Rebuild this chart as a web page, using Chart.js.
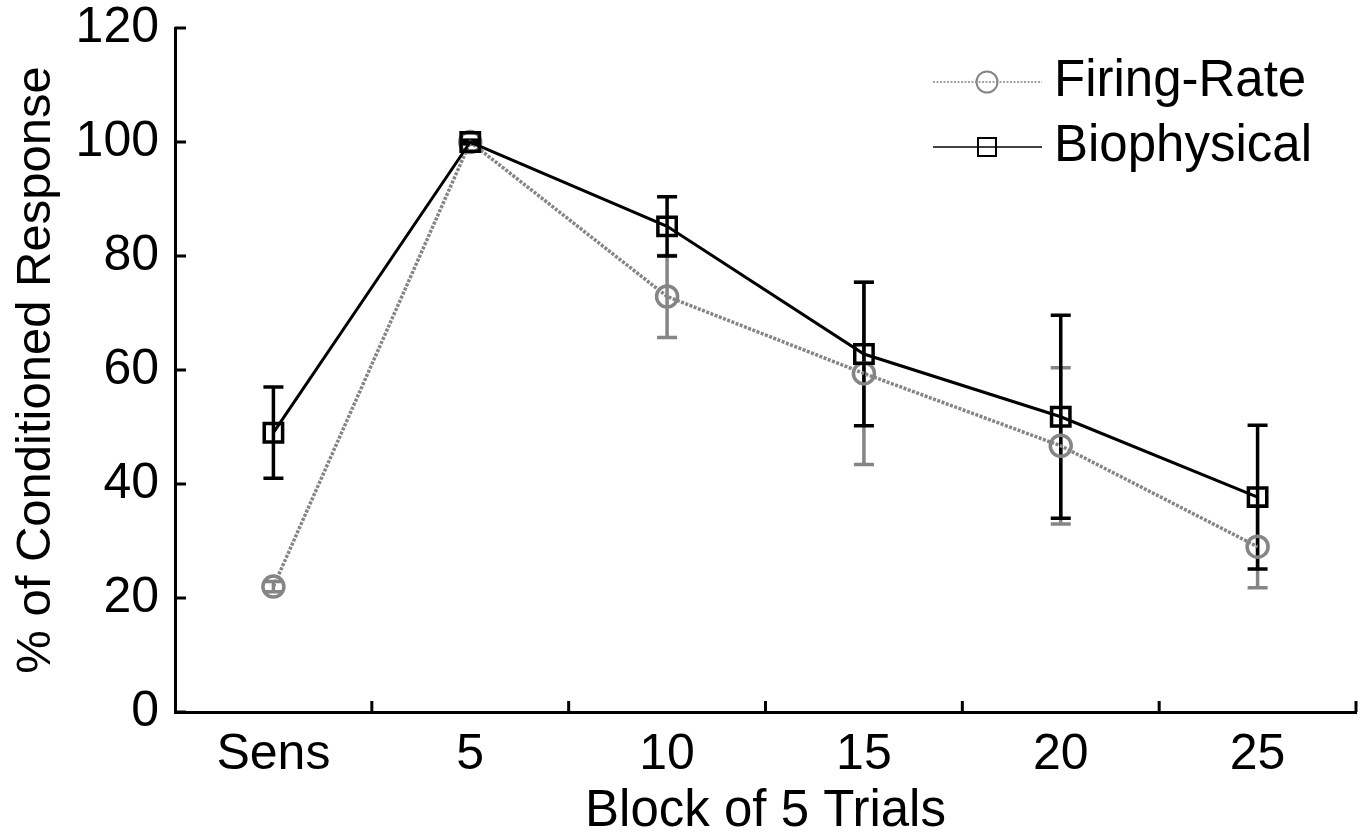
<!DOCTYPE html>
<html>
<head>
<meta charset="utf-8">
<script src="https://cdn.jsdelivr.net/npm/chart.js@4/dist/chart.umd.min.js"></script>
<style>
html, body { margin: 0; padding: 0; background: #fff; overflow: hidden; }
canvas { display: block; }
</style>
</head>
<body>
<canvas id="reponse" width="1363" height="837"></canvas>
<script>
const blocs = ['Sens', '5', '10', '15', '20', '25'];
const firingRate = [22, 100, 72.9, 59.4, 46.7, 29];
const firingErr = [0.9, 0.3, 7.2, 16, 13.7, 7.2];
const biophys = [49, 100, 85.2, 62.8, 51.8, 37.7];
const biophysErr = [8, 0.3, 5.2, 12.6, 17.8, 12.6];
const yTicks = [0, 20, 40, 60, 80, 100, 120];

const police = "'Liberation Sans', Arial, sans-serif";
const gris = '#858585';

// barres d'erreur, gris d'abord puis noir
const barresErreur = {
    id: 'barresErreur',
    beforeDatasetsDraw(chart) {
        const ctx = chart.ctx;
        const x = chart.scales.x, y = chart.scales.y;
        const ordre = chart.data.datasets.slice().sort((a, b) => b.order - a.order);
        ordre.forEach(ds => {
            ctx.save();
            ctx.strokeStyle = ds.borderColor;
            ctx.lineWidth = 3.5;
            ctx.beginPath();
            ds.erreurs.forEach((e, i) => {
                const px = x.getPixelForValue(i);
                const haut = y.getPixelForValue(ds.data[i] + e);
                const bas = y.getPixelForValue(ds.data[i] - e);
                ctx.moveTo(px, haut); ctx.lineTo(px, bas);
                ctx.moveTo(px - 10, haut); ctx.lineTo(px + 10, haut);
                ctx.moveTo(px - 10, bas); ctx.lineTo(px + 10, bas);
            });
            ctx.stroke();
            ctx.restore();
        });
    }
};

// petites graduations vers l'intérieur
const graduations = {
    id: 'graduations',
    beforeDatasetsDraw(chart) {
        const {ctx, chartArea: a, scales: {x, y}} = chart;
        ctx.save();
        ctx.strokeStyle = '#000';
        ctx.lineWidth = 3;
        ctx.beginPath();
        y.ticks.forEach(t => {
            const py = y.getPixelForValue(t.value);
            ctx.moveTo(a.left, py); ctx.lineTo(a.left + 11, py);
        });
        const pas = x.getPixelForValue(1) - x.getPixelForValue(0);
        blocs.forEach((b, i) => {
            const px = x.getPixelForValue(i) + pas / 2;
            ctx.moveTo(px, a.bottom); ctx.lineTo(px, a.bottom - 11);
        });
        ctx.stroke();
        ctx.restore();
    }
};

const legende = {
    id: 'legende',
    afterDraw(chart) {
        const {ctx, chartArea: a} = chart;
        const x0 = a.right - 423;
        chart.data.datasets.forEach((ds, i) => {
            const py = a.top + 54 + i * 65;
            ctx.save();
            ctx.strokeStyle = ds.borderColor;
            ctx.lineWidth = 1.5;
            ctx.setLineDash(ds.borderDash ? [2, 1.5] : []);
            ctx.beginPath();
            ctx.moveTo(x0, py); ctx.lineTo(x0 + 109, py);
            ctx.stroke();
            ctx.setLineDash([]);
            ctx.lineWidth = 2;
            ctx.beginPath();
            if (ds.pointStyle === 'circle') {
                ctx.arc(x0 + 54, py, 10.5, 0, Math.PI * 2);
            } else {
                ctx.rect(x0 + 54 - 9, py - 9, 18, 18);
            }
            ctx.stroke();
            ctx.fillStyle = '#000';
            ctx.font = '51px ' + police;
            ctx.textBaseline = 'middle';
            ctx.fillText(ds.label, x0 + 121, py);
            ctx.restore();
        });
    }
};

const ctx = document.getElementById('reponse').getContext('2d');

new Chart(ctx, {
    type: 'line',
    data: {
        labels: blocs,
        datasets: [{
            label: 'Firing-Rate',
            data: firingRate,
            erreurs: firingErr,
            order: 1,
            borderColor: gris,
            borderWidth: 3.5,
            borderDash: [3, 1.5],
            pointStyle: 'circle',
            pointRadius: 10.5,
            pointBorderWidth: 3.5,
            pointBorderColor: gris,
            pointBackgroundColor: 'rgba(0,0,0,0)',
            tension: 0
        }, {
            label: 'Biophysical',
            data: biophys,
            erreurs: biophysErr,
            order: 0,
            borderColor: '#000',
            borderWidth: 3,
            pointStyle: 'rect',
            pointRadius: 13,
            pointBorderWidth: 3.5,
            pointBorderColor: '#000',
            pointBackgroundColor: 'rgba(0,0,0,0)',
            tension: 0
        }]
    },
    options: {
        responsive: false,
        animation: false,
        devicePixelRatio: 1,
        layout: {
            autoPadding: false,
            padding: { top: 28, right: 7, left: 0, bottom: 0 }
        },
        scales: {
            x: {
                type: 'category',
                offset: true,
                grid: { display: false },
                border: { display: true, color: '#000', width: 3 },
                ticks: {
                    color: '#000',
                    font: { family: police, size: 50, lineHeight: 1 },
                    padding: 10,
                    maxRotation: 0,
                    autoSkip: false
                },
                title: {
                    display: true,
                    text: 'Block of 5 Trials',
                    color: '#000',
                    font: { family: police, size: 51, lineHeight: 1 },
                    padding: { top: 0, bottom: 0 }
                },
                afterFit(s) {
                    s.height = 125;
                    s.paddingLeft = 0;
                    s.paddingRight = 0;
                }
            },
            y: {
                min: 0,
                max: 120,
                afterBuildTicks(s) { s.ticks = yTicks.map(v => ({ value: v })); },
                grid: { display: false },
                border: { display: true, color: '#000', width: 3 },
                ticks: {
                    color: '#000',
                    font: { family: police, size: 50, lineHeight: 1 },
                    padding: 8
                },
                title: {
                    display: true,
                    text: '% of Conditioned Response',
                    color: '#000',
                    font: { family: police, size: 49, lineHeight: 1 },
                    padding: { top: 12, bottom: 0 }
                },
                afterFit(s) {
                    s.width = 175;
                    s.paddingTop = 0;
                    s.paddingBottom = 0;
                }
            }
        },
        plugins: {
            legend: { display: false },
            tooltip: { enabled: false }
        }
    },
    plugins: [barresErreur, graduations, legende]
});
</script>
</body>
</html>
